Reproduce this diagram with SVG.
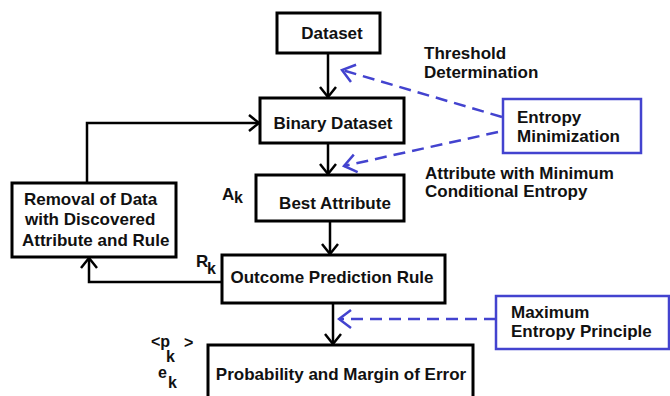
<svg xmlns="http://www.w3.org/2000/svg" width="670" height="396" viewBox="0 0 670 396">
<style>
.box{fill:#fff;stroke:#000;stroke-width:3}
.bbox{fill:#fff;stroke:#4343cf;stroke-width:2.5}
.t{font-family:"Liberation Sans",Arial,sans-serif;font-size:17px;font-weight:bold;fill:#111}
.lbl{font-family:"Liberation Sans",Arial,sans-serif;font-size:17px;fill:#111;font-weight:bold}
.sub{font-family:"Liberation Sans",Arial,sans-serif;font-size:16px;fill:#111;font-weight:bold}
.c{fill:none;stroke:#000;stroke-width:2.5}
.d{fill:none;stroke:#4343cf;stroke-width:2.5;stroke-dasharray:12,7}
</style>
<defs>
<marker id="ah" markerUnits="userSpaceOnUse" markerWidth="14" markerHeight="20" viewBox="0 0 14 20" refX="12" refY="10" orient="auto">
<path d="M2,2 L12,10 L2,18" fill="none" stroke="#000" stroke-width="2.5"/>
</marker>
<marker id="bh" markerUnits="userSpaceOnUse" markerWidth="16" markerHeight="22" viewBox="0 0 16 22" refX="14" refY="11" orient="auto">
<path d="M2,2 L14,11 L2,20" fill="none" stroke="#4343cf" stroke-width="2.5"/>
</marker>
</defs>
<g id="connectors">
<line class="c" x1="328" y1="53" x2="328" y2="97" marker-end="url(#ah)"/>
<line class="c" x1="328" y1="143" x2="328" y2="174" marker-end="url(#ah)"/>
<line class="c" x1="330" y1="221" x2="330" y2="254" marker-end="url(#ah)"/>
<line class="c" x1="333" y1="303" x2="333" y2="344" marker-end="url(#ah)"/>
<polyline class="c" points="222,282 89,282 89,258" marker-end="url(#ah)"/>
<polyline class="c" points="87,183 87,123 259,123" marker-end="url(#ah)"/>
<line class="d" x1="502" y1="117" x2="342" y2="70" marker-end="url(#bh)"/>
<line class="d" x1="498" y1="132" x2="344" y2="166" marker-end="url(#bh)"/>
<line class="d" x1="496" y1="319" x2="339" y2="319" marker-end="url(#bh)"/>
</g>
<g id="dataset"><rect class="box" x="277" y="13" width="103" height="40"/><text class="t" x="332" y="39" text-anchor="middle">Dataset</text></g>
<g id="binary"><rect class="box" x="260" y="98" width="144" height="45"/><text class="t" x="333" y="129" text-anchor="middle">Binary Dataset</text></g>
<g id="best"><rect class="box" x="256" y="175" width="148" height="46"/><text class="t" x="335" y="209" text-anchor="middle">Best Attribute</text></g>
<g id="outcome"><rect class="box" x="222" y="255" width="223" height="48"/><text class="t" x="332" y="283" text-anchor="middle">Outcome Prediction Rule</text></g>
<g id="probability"><rect class="box" x="208" y="345" width="265" height="60"/><text class="t" x="341" y="380" text-anchor="middle">Probability and Margin of Error</text></g>
<g id="removal"><rect class="box" x="12" y="183" width="164" height="74"/>
<text class="t" x="24" y="205">Removal of Data</text>
<text class="t" x="25" y="225">with Discovered</text>
<text class="t" x="22" y="246">Attribute and Rule</text></g>
<g id="entropy-min"><rect class="bbox" x="503" y="99" width="138" height="54"/>
<text class="t" x="517" y="123">Entropy</text><text class="t" x="517" y="142">Minimization</text></g>
<g id="max-entropy"><rect class="bbox" x="496" y="296" width="173" height="53"/>
<text class="t" x="511" y="318">Maximum</text><text class="t" x="511" y="337">Entropy Principle</text></g>
<g id="labels">
<text class="t" x="424" y="59">Threshold</text>
<text class="t" x="424" y="78">Determination</text>
<text class="t" x="425" y="179">Attribute with Minimum</text>
<text class="t" x="425" y="197">Conditional Entropy</text>
<text class="lbl" x="222" y="200">A</text><text class="sub" x="234" y="203">k</text>
<text class="lbl" x="196" y="267">R</text><text class="sub" x="207" y="274">k</text>
<text class="sub" x="151" y="347">&lt;p</text><text class="sub" x="166" y="362">k</text><text class="sub" x="184" y="348">&gt;</text>
<text class="sub" x="158" y="378">e</text><text class="sub" x="168" y="388">k</text>
</g>
</svg>
